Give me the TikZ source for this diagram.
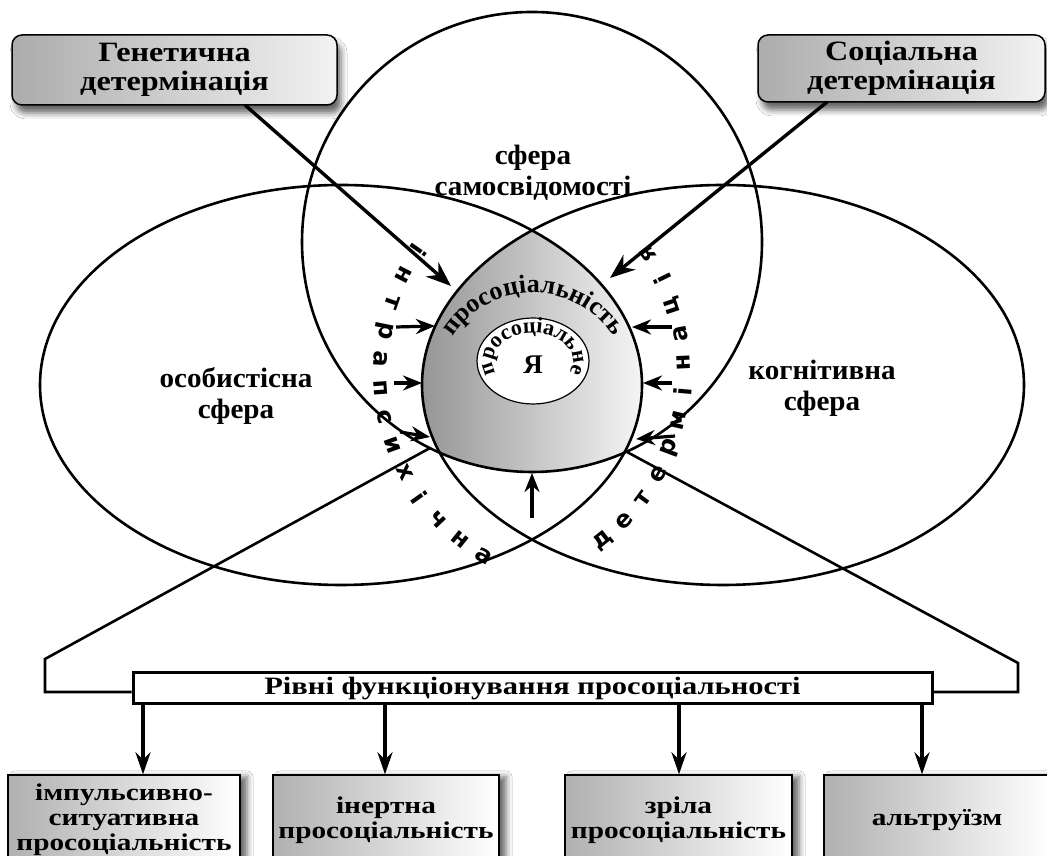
\documentclass[tikz,border=0pt]{standalone}
\usepackage{fontspec}
\setmainfont{Liberation Serif}
\newfontfamily\wideA[FakeStretch=1.15]{Liberation Serif}
\newfontfamily\wideB[FakeStretch=1.22]{Liberation Serif}
\newfontfamily\wideC[FakeStretch=1.04]{Liberation Serif}
\newfontfamily\arcfont{DejaVu Sans}
\usetikzlibrary{arrows.meta,decorations.text,shadows.blur,shapes.geometric,calc}
\tikzset{
  outline/.style={line width=2.6pt},
  bigarrow/.style={line width=3.4pt,-{Stealth[length=25pt,width=19pt]}},
  smallarrow/.style={line width=3.2pt,-{Stealth[length=19pt,width=15pt]}},
  downarrow/.style={line width=3.2pt,-{Stealth[length=22pt,width=15pt]}},
  topbox/.style={draw,line width=1.5pt,rounded corners=10pt,left color=gray!65,right color=gray!10,
    align=center,font=\wideA\bfseries\fontsize{28}{29}\selectfont,inner sep=0pt,
    blur shadow={shadow xshift=4pt,shadow yshift=-8pt,shadow blur radius=6pt,shadow opacity=60}},
  levelbox/.style={draw,line width=1.3pt,left color=gray!62,right color=white,minimum height=90pt,
    align=center,font=\wideB\bfseries\fontsize{24}{25}\selectfont,inner sep=0pt,
    blur shadow={shadow xshift=7pt,shadow yshift=-2pt,shadow blur radius=6pt,shadow opacity=60}},
  label/.style={align=center,font=\wideC\bfseries\fontsize{28}{31}\selectfont,inner sep=0pt},
  arcletter/.style={font=\arcfont\bfseries\fontsize{24}{24}\selectfont,inner sep=0pt},
}
\begin{document}
\begin{tikzpicture}[x=1pt,y=1pt]
\clip (0,0) rectangle (1047,856);
\fill[white] (0,0) rectangle (1047,856);

% grey intersection
\begin{scope}
  \clip (532,614) circle (230);
  \clip (341,471) ellipse (301 and 200);
  \clip (723,471) ellipse (301 and 200);
  \shade[left color=black!42,right color=black!3] (418,378) rectangle (648,630);
\end{scope}

% spheres
\draw[outline] (532,614) circle (230);
\draw[outline] (341,471) ellipse (301 and 200);
\draw[outline] (723,471) ellipse (301 and 200);

% inner self ellipse
\node[ellipse,draw,fill=white,line width=1.2pt,minimum width=112pt,minimum height=86pt] (self) at (533,495) {};
\node[font=\bfseries\fontsize{27}{27}\selectfont,inner sep=0pt] (ya) at (533,491) {Я};
\path[decorate,decoration={text along path,text align=center,
  text={|\bfseries\fontsize{22}{22}\selectfont|просоціальне}}]
  (533,495) ++(202:40 and 28) arc[start angle=202,end angle=-22,x radius=40,y radius=28];

% prosociality label on grey region
\path[decorate,decoration={text along path,text align=center,
  text={|\bfseries\fontsize{26}{26}\selectfont|просоціальність}}]
  (533,467) ++(146:96) arc[start angle=146,end angle=34,radius=96];

% sphere labels
\node[label] (selfsphere) at (533,683) {сфера\\самосвідомості};
\node[label] (persphere) at (236,460) {особистісна\\сфера};
\node[label] (cogsphere) at (822,468) {когнітивна\\сфера};

% arc texts
\foreach \l [count=\i from 0] in {і,н,т,р,а,п,с,и,х,і,ч,н,а}{
  \pgfmathsetmacro\ang{145+7.83*\i}
  \node[arcletter,rotate=\ang+90] (L\i) at ($(594,483)+(\ang:214)$) {\l};
}
\foreach \l [count=\i from 0] in {д,е,т,е,р,м,і,н,а,ц,і,я}{
  \pgfmathsetmacro\ang{-51.5+7.75*\i}
  \node[arcletter,rotate=\ang+90] (R\i) at ($(470,483)+(\ang:214)$) {\l};
}

% determination boxes
\node[topbox,minimum width=325pt,minimum height=70pt] (gen) at (174.5,786) {Генетична\\детермінація};
\node[topbox,minimum width=287pt,minimum height=67pt] (soc) at (901.5,787.5) {Соціальна\\детермінація};

\coordinate (genstart) at (245,751);
\coordinate (gentip) at (451,570);
\coordinate (socstart) at (827,754);
\coordinate (soctip) at (610,578);
\draw[bigarrow] (genstart) -- (gentip);
\draw[bigarrow] (socstart) -- (soctip);

% small arrows
\coordinate (la1) at (396,529); \coordinate (lt1) at (435,530);
\coordinate (la2) at (394,473); \coordinate (lt2) at (422,473);
\coordinate (la3) at (400,424); \coordinate (lt3) at (430,419);
\coordinate (ra1) at (672,529); \coordinate (rt1) at (632,529);
\coordinate (ra2) at (672,473); \coordinate (rt2) at (643,473);
\coordinate (ra3) at (675,420); \coordinate (rt3) at (636,417);
\coordinate (ba) at (532,338); \coordinate (bt) at (532,383);
\foreach \s/\t in {la1/lt1,la2/lt2,la3/lt3,ra1/rt1,ra2/rt2,ra3/rt3,ba/bt}
  \draw[smallarrow] (\s) -- (\t);

% levels bar and bracket
\node[draw,line width=3pt,fill=white,minimum width=799pt,minimum height=31pt,inner sep=0pt,
  font=\wideB\bfseries\fontsize{25}{25}\selectfont] (levels) at (532.5,167.5) {Рівні функціонування просоціальності};
\coordinate (cornerL) at (430,408);
\coordinate (cornerR) at (627,404);
\coordinate (bl1) at (45,197);
\coordinate (bl2) at (45,164);
\coordinate (br1) at (1018,193);
\coordinate (br2) at (1018,164);
\draw[line width=2.6pt] (cornerL) -- (bl1) -- (bl2) -- (bl2 -| levels.west);
\draw[line width=2.6pt] (cornerR) -- (br1) -- (br2) -- (br2 -| levels.east);

% level boxes
\node[levelbox,minimum width=232pt] (lv1) at (124,36) {імпульсивно-\\ситуативна\\просоціальність};
\node[levelbox,minimum width=226pt] (lv2) at (386,36) {інертна\\просоціальність};
\node[levelbox,minimum width=227pt] (lv3) at (678.5,36) {зріла\\просоціальність};
\node[levelbox,minimum width=226pt] (lv4) at (937,36) {альтруїзм};

\foreach \x/\b in {143/lv1,385/lv2,679/lv3,922/lv4}
  \draw[downarrow] (levels.south -| \x,0) -- (\b.north -| \x,0);
\end{tikzpicture}
\end{document}
